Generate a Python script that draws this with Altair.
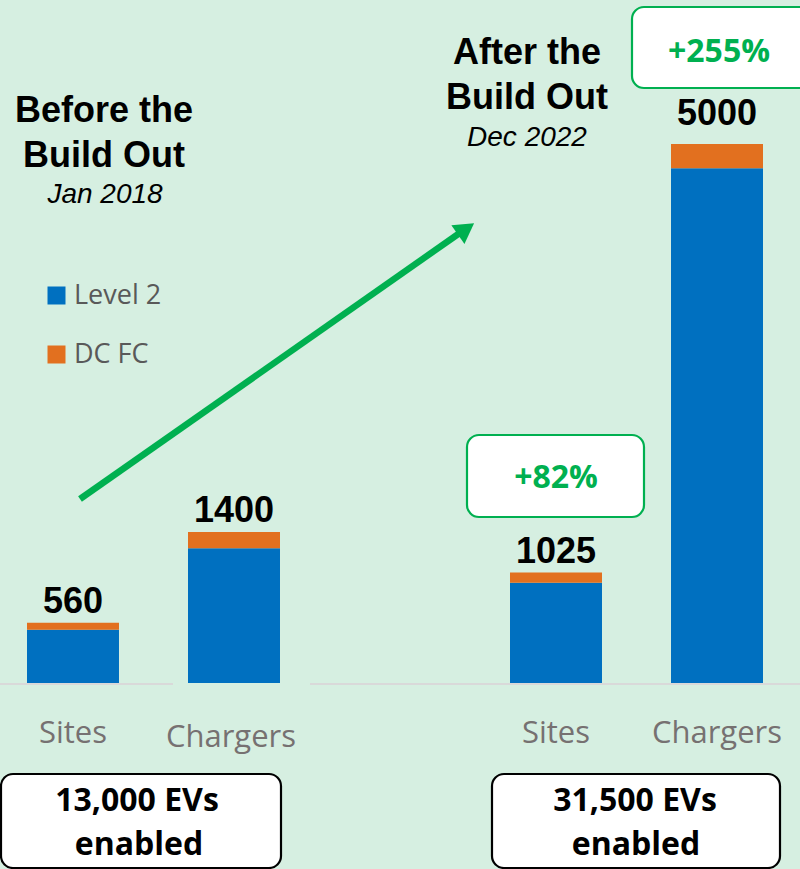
import altair as alt
import pandas as pd

# ---------------- data ----------------
groups = ["Before", "Before", "After", "After"]
metrics = ["Sites", "Chargers", "Sites", "Chargers"]
totals = [560, 1400, 1025, 5000]
dcfc = [65, 150, 95, 225]
level2 = [495, 1250, 930, 4775]
series = ["Level 2", "DC FC"]
series_colors = ["#0070c0", "#e2701f"]

before_title = ["Before the", "Build Out"]
before_date = "Jan 2018"
after_title = ["After the", "Build Out"]
after_date = "Dec 2022"
growth_labels = ["+82%", "+255%"]
ev_before = ["13,000 EVs", "enabled"]
ev_after = ["31,500 EVs", "enabled"]

keys = [f"{g} {m}" for g, m in zip(groups, metrics)]
x_domain = [keys[0], keys[1], "gap", keys[2], keys[3]]

rows = []
for k, l2, dc in zip(keys, level2, dcfc):
    rows.append({"key": k, "series": series[0], "value": l2, "order": 0})
    rows.append({"key": k, "series": series[1], "value": dc, "order": 1})
long_df = pd.DataFrame(rows)
tot_df = pd.DataFrame({"key": keys, "metric": metrics, "total": totals, "group": groups})

BG = "#d6efe1"
GREEN = "#00b050"

xscale = alt.Scale(domain=x_domain, range=[27, 763], paddingInner=0.4286, paddingOuter=0)
yscale = alt.Scale(domain=[0, 5000], range=[683, 144], nice=False, zero=True)


def text_layer(txt, x, y, size, font="Liberation Sans", weight="normal",
               style="normal", color="black", align="center"):
    return alt.Chart(pd.DataFrame({"t": [txt]})).mark_text(
        font=font, fontSize=size, fontWeight=weight, fontStyle=style,
        color=color, align=align, baseline="alphabetic"
    ).encode(text="t:N", x=alt.value(x), y=alt.value(y))


def box(x1, x2, y1, y2, stroke, sw=2.2, r=12):
    return alt.Chart(pd.DataFrame({"t": [0]})).mark_rect(
        fill="white", stroke=stroke, strokeWidth=sw, cornerRadius=r
    ).encode(x=alt.value(x1), x2=alt.value(x2), y=alt.value(y1), y2=alt.value(y2))


def hrule(x1, x2, y):
    return alt.Chart(pd.DataFrame({"t": [0]})).mark_rule(
        color="#d9d9d9", strokeWidth=2
    ).encode(x=alt.value(x1), x2=alt.value(x2), y=alt.value(y))


# axis baseline segments
axis1 = hrule(0, 173, 684)
axis2 = hrule(310, 800, 684)

# stacked bars
bars = alt.Chart(long_df).mark_bar().encode(
    x=alt.X("key:N", scale=xscale, axis=None),
    y=alt.Y("value:Q", stack="zero", scale=yscale, axis=None),
    color=alt.Color(
        "series:N",
        scale=alt.Scale(domain=series, range=series_colors),
        sort=series,
        legend=alt.Legend(
            title=None, orient="none", legendX=43, legendY=282,
            direction="vertical", symbolType="square", symbolSize=324,
            symbolStrokeWidth=0, symbolOpacity=1, labelFont="Open Sans",
            labelFontSize=27, labelColor="#595959", rowPadding=31,
            labelOffset=4, padding=0,
        ),
    ),
    order=alt.Order("order:Q"),
)

# value labels
val_small = alt.Chart(tot_df).transform_filter("datum.total < 5000").mark_text(
    font="Liberation Sans", fontSize=36, fontWeight="bold", color="black",
    baseline="alphabetic", dy=-10
).encode(
    x=alt.X("key:N", scale=xscale, axis=None),
    y=alt.Y("total:Q", scale=yscale, axis=None),
    text=alt.Text("total:Q", format="d"),
)
val_big = alt.Chart(tot_df).transform_filter("datum.total >= 5000").mark_text(
    font="Liberation Sans", fontSize=36, fontWeight="bold", color="black",
    baseline="alphabetic", dy=-19
).encode(
    x=alt.X("key:N", scale=xscale, axis=None),
    y=alt.Y("total:Q", scale=yscale, axis=None),
    text=alt.Text("total:Q", format="d"),
)

# category labels
cat_main = alt.Chart(tot_df).transform_filter("datum.key != 'Before Chargers'").mark_text(
    font="Open Sans", fontSize=31, color="#767171", baseline="alphabetic"
).encode(
    x=alt.X("key:N", scale=xscale, axis=None),
    y=alt.value(743),
    text="metric:N",
)
cat_low = alt.Chart(tot_df).transform_filter("datum.key == 'Before Chargers'").mark_text(
    font="Open Sans", fontSize=31, color="#767171", baseline="alphabetic", dx=-3
).encode(
    x=alt.X("key:N", scale=xscale, axis=None),
    y=alt.value(747),
    text="metric:N",
)

# titles
t1 = text_layer(before_title[0], 104, 122, 36, weight="bold")
t2 = text_layer(before_title[1], 104, 167, 36, weight="bold")
t3 = text_layer(before_date, 105, 203, 28, style="italic")
t4 = text_layer(after_title[0], 527, 64, 36, weight="bold")
t5 = text_layer(after_title[1], 527, 109, 36, weight="bold")
t6 = text_layer(after_date, 527, 146, 28, style="italic")

# arrow
arrow_line = alt.Chart(pd.DataFrame({"t": [0]})).mark_rule(
    color=GREEN, strokeWidth=6.5
).encode(x=alt.value(80), y=alt.value(499), x2=alt.value(464), y2=alt.value(230))
arrow_head = alt.Chart(pd.DataFrame({"t": [0]})).mark_point(
    shape="triangle-up", filled=True, color=GREEN, opacity=1, size=520, angle=55,
    strokeWidth=0
).encode(x=alt.value(466), y=alt.value(229))

# growth boxes
g1_box = box(467, 644, 435, 517, GREEN)
g1_txt = text_layer(growth_labels[0], 556, 488, 32, font="Open Sans", weight="bold", color=GREEN)
g2_box = box(632, 815, 7, 88, GREEN)
g2_txt = text_layer(growth_labels[1], 719, 62, 32, font="Open Sans", weight="bold", color=GREEN)

# EV boxes
e1_box = box(1, 281, 774, 868, "black")
e1_a = text_layer(ev_before[0], 137, 811, 32, font="Open Sans", weight="bold")
e1_b = text_layer(ev_before[1], 139, 855, 32, font="Open Sans", weight="bold")
e2_box = box(492, 780, 774, 868, "black")
e2_a = text_layer(ev_after[0], 635, 811, 32, font="Open Sans", weight="bold")
e2_b = text_layer(ev_after[1], 636, 855, 32, font="Open Sans", weight="bold")

chart = alt.layer(
    axis1, axis2, bars, val_small, val_big, cat_main, cat_low,
    t1, t2, t3, t4, t5, t6, arrow_line, arrow_head,
    g1_box, g1_txt, g2_box, g2_txt,
    e1_box, e1_a, e1_b, e2_box, e2_a, e2_b,
).properties(
    width=800, height=869, background=BG, padding=0,
    autosize=alt.AutoSizeParams(type="none"),
).configure_view(stroke=None)

chart.save("out.html", embed_options={"renderer": "svg", "actions": False})
